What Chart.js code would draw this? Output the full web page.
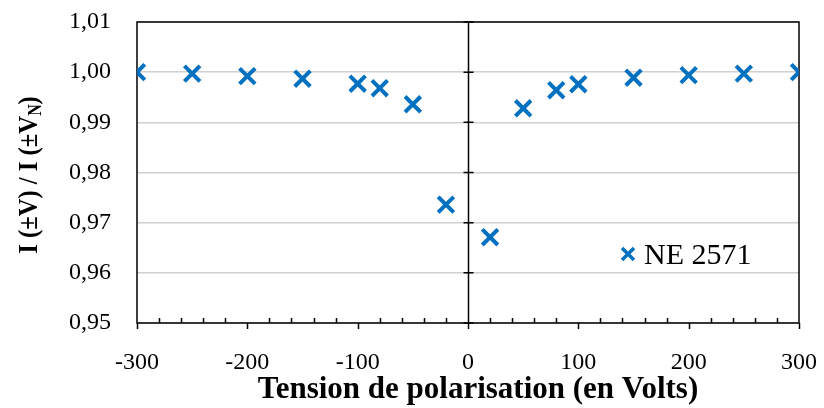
<!DOCTYPE html>
<html>
<head>
<meta charset="utf-8">
<script src="https://cdn.jsdelivr.net/npm/chart.js@4/dist/chart.umd.min.js"></script>
<style>
  html, body { margin: 0; padding: 0; background: #fff; }
  #wrap { width: 824px; height: 408px; position: relative; }
</style>
</head>
<body>
<div id="wrap"><canvas id="c"></canvas></div>
<script>
// Bias voltage (V) and normalised current ratio I(±V)/I(±V_N)
const tensions = [-300, -250, -200, -150, -100, -80, -50, -20, 20, 50, 80, 100, 150, 200, 250, 300];
const rapports = [1.0000, 0.9997, 0.9992, 0.9987, 0.9977, 0.9968, 0.9936, 0.9736,
                  0.9671, 0.9928, 0.9964, 0.9976, 0.9989, 0.9994, 0.9997, 1.0000];
const serieLabel = 'NE 2571';
const xTitle = 'Tension de polarisation (en Volts)';

const BLUE = '#0070C0';
const SERIF = "'Liberation Serif', 'Times New Roman', serif";

const points = tensions.map((v, i) => ({ x: v, y: rapports[i] }));

// Frame, central axis through 0 V, tick marks, titles and legend
const decor = {
  id: 'decor',
  beforeDatasetsDraw(chart) {
    const { ctx, chartArea: a, scales: { x, y } } = chart;
    ctx.save();
    ctx.strokeStyle = '#000';
    ctx.lineWidth = 1.5;
    ctx.strokeRect(a.left, a.top, a.right - a.left, a.bottom - a.top);

    // vertical axis at x = 0
    const x0 = Math.round(x.getPixelForValue(0)) + 0.5;
    ctx.beginPath();
    ctx.moveTo(x0, a.top);
    ctx.lineTo(x0, a.bottom);
    for (let v = 95; v <= 101; v++) {
      const py = y.getPixelForValue(v / 100);
      ctx.moveTo(x0 - 5, py);
      ctx.lineTo(x0 + 5, py);
    }
    // minor ticks on the horizontal axis (inside), major ticks (outside)
    for (let v = -300; v <= 300; v += 20) {
      const px = Math.round(x.getPixelForValue(v)) + 0.5;
      if (v % 100 === 0) {
        ctx.moveTo(px, a.bottom);
        ctx.lineTo(px, a.bottom + 6);
      } else {
        ctx.moveTo(px, a.bottom);
        ctx.lineTo(px, a.bottom - 5);
      }
    }
    ctx.stroke();
    ctx.restore();
  },
  afterDraw(chart) {
    const { ctx } = chart;
    ctx.save();
    ctx.fillStyle = '#000';

    // x-axis title
    ctx.font = 'bold 31px ' + SERIF;
    ctx.textAlign = 'center';
    ctx.textBaseline = 'alphabetic';
    ctx.fillText(xTitle, 478, 398);

    // y-axis title with subscript N (slightly condensed along the text)
    ctx.translate(27, 175);
    ctx.rotate(-Math.PI / 2);
    ctx.scale(0.88, 1);
    const main = 'I (±V) / I (±V';
    const fMain = 'bold 28px ' + SERIF;
    const fSub = 'bold 18px ' + SERIF;
    ctx.font = fMain;
    const w1 = ctx.measureText(main).width;
    const w3 = ctx.measureText(')').width;
    ctx.font = fSub;
    const w2 = ctx.measureText('N').width;
    const total = w1 + w2 + w3;
    let cx = -total / 2;
    ctx.textAlign = 'left';
    ctx.textBaseline = 'alphabetic';
    ctx.font = fMain;
    ctx.fillText(main, cx, 10);
    cx += w1;
    ctx.font = fSub;
    ctx.fillText('N', cx, 14);
    cx += w2;
    ctx.font = fMain;
    ctx.fillText(')', cx, 10);
    ctx.restore();

    // legend inside the plot
    ctx.save();
    const lx = 628, ly = 254, r = 6;
    ctx.strokeStyle = BLUE;
    ctx.lineWidth = 3.5;
    ctx.beginPath();
    ctx.moveTo(lx - r, ly - r); ctx.lineTo(lx + r, ly + r);
    ctx.moveTo(lx - r, ly + r); ctx.lineTo(lx + r, ly - r);
    ctx.stroke();
    ctx.fillStyle = '#000';
    ctx.font = '30px ' + SERIF;
    ctx.textAlign = 'left';
    ctx.textBaseline = 'alphabetic';
    ctx.fillText(serieLabel, 644, 264);
    ctx.restore();
  }
};

new Chart(document.getElementById('c'), {
  type: 'scatter',
  data: {
    datasets: [{
      label: serieLabel,
      data: points,
      pointStyle: 'crossRot',
      pointRadius: 11,
      pointHoverRadius: 11,
      pointBorderWidth: 4,
      borderColor: BLUE,
      backgroundColor: BLUE,
      showLine: false
    }]
  },
  options: {
    responsive: true,
    maintainAspectRatio: false,
    animation: false,
    events: [],
    layout: { padding: { top: 22, right: 25, left: 0, bottom: 0 } },
    plugins: { legend: { display: false }, tooltip: { enabled: false } },
    scales: {
      x: {
        type: 'linear',
        min: -300, max: 300,
        afterFit(s) { s.height = 85; s.paddingLeft = 0; s.paddingRight = 0; },
        grid: { display: false, drawTicks: false },
        border: { display: false },
        ticks: {
          stepSize: 100,
          padding: 25,
          color: '#000',
          font: { family: SERIF, size: 24 },
          maxRotation: 0
        }
      },
      y: {
        type: 'linear',
        min: 0.95, max: 1.01,
        afterFit(s) { s.width = 137; s.paddingTop = 0; s.paddingBottom = 0; },
        grid: { color: '#d0d0d0', lineWidth: 1.5, drawTicks: false },
        border: { display: false },
        ticks: {
          stepSize: 0.01,
          padding: 26,
          color: '#000',
          font: { family: SERIF, size: 24 },
          callback: v => v.toFixed(2).replace('.', ',')
        }
      }
    }
  },
  plugins: [decor]
});
</script>
</body>
</html>
